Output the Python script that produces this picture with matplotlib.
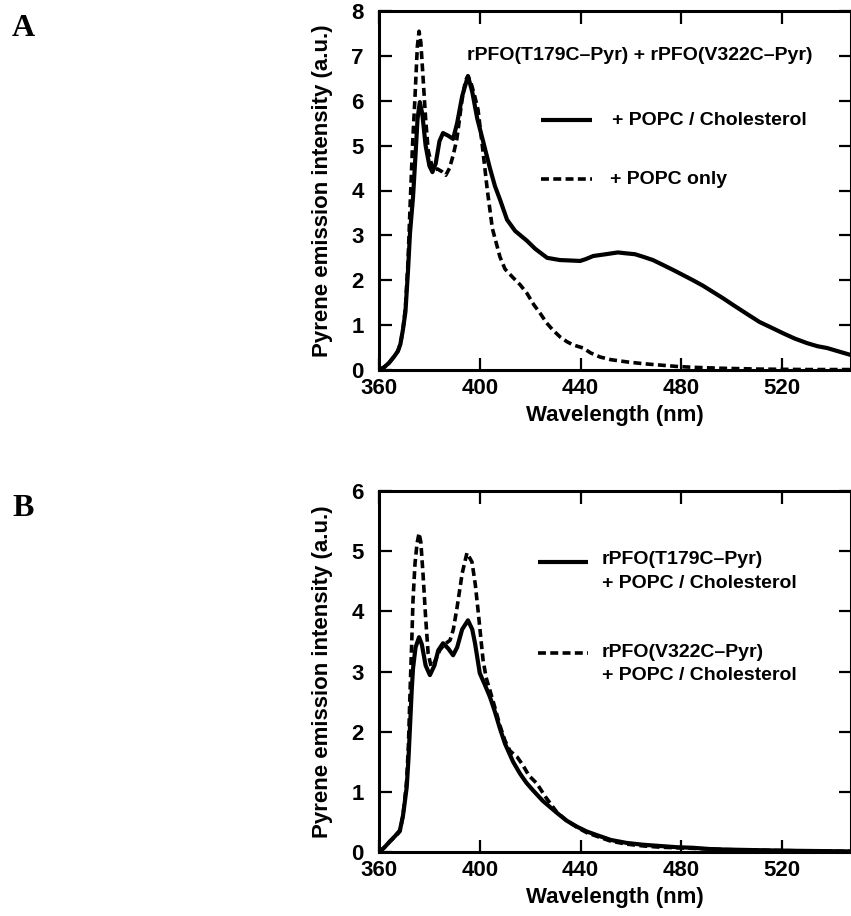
import matplotlib
matplotlib.use("Agg")
import matplotlib.pyplot as plt

plt.rcParams['font.family'] = ['Liberation Sans', 'DejaVu Sans']
plt.rcParams['font.weight'] = 'bold'

# panel A: rPFO(T179C-Pyr) + rPFO(V322C-Pyr)
wl_a_chol = [360, 362, 364, 366, 367.5, 368.5, 369.5, 370.5, 371.5, 372.3, 373.5, 374.5,
             375.3, 376.2, 377.2, 378.5, 380, 381.2, 382.5, 384, 385.4, 387.5, 389.4, 391,
             393, 395.3, 397, 399, 401.3, 404, 406, 408, 410.8, 414, 418.7, 422, 426.7,
             431.8, 436, 439.8, 442, 445, 450, 454.8, 458, 461.6, 465, 468.7, 472, 476.7,
             480.5, 484.6, 488.5, 492.5, 496.5, 500.5, 506, 511, 515.5, 520.3, 525, 529.8,
             534, 537.8, 542, 547.5]
int_a_chol = [0.0, 0.06, 0.16, 0.3, 0.42, 0.58, 0.9, 1.3, 2.2, 3.05, 3.85, 4.8,
              5.6, 5.97, 5.7, 5.0, 4.55, 4.41, 4.6, 5.1, 5.28, 5.22, 5.15, 5.5,
              6.1, 6.55, 6.2, 5.6, 5.1, 4.5, 4.1, 3.8, 3.35, 3.1, 2.88, 2.7, 2.5,
              2.45, 2.44, 2.43, 2.47, 2.54, 2.58, 2.62, 2.6, 2.58, 2.52, 2.45, 2.36, 2.23,
              2.12, 2.0, 1.88, 1.74, 1.6, 1.45, 1.25, 1.07, 0.95, 0.82, 0.7, 0.6,
              0.53, 0.49, 0.42, 0.33]

wl_a_popc = [360, 362, 364, 366, 367.5, 368.5, 369.5, 370.5, 371.5, 372.3, 373.3, 374.3,
             375.2, 375.9, 376.6, 377.5, 378.5, 379.5, 381.4, 383.2, 385, 386.5, 388, 389.5,
             390.9, 392.9, 394.3, 395.3, 396.5, 398, 399.3, 401, 403, 405, 408, 410, 413,
             416, 418.7, 421.5, 424, 426.5, 429, 432, 434.6, 437, 441, 444, 447.7, 452,
             458.4, 465, 471.5, 478, 484.6, 495, 511, 530, 547.5]
int_a_popc = [0.0, 0.06, 0.16, 0.3, 0.42, 0.58, 0.9, 1.4, 2.4, 3.6, 5.0, 6.1,
              7.2, 7.55, 7.3, 6.5, 5.6, 4.9, 4.45, 4.48, 4.42, 4.34, 4.5, 4.8,
              5.15, 6.0, 6.45, 6.55, 6.4, 6.1, 5.8, 5.0, 4.0, 3.15, 2.52, 2.25, 2.07,
              1.9, 1.71, 1.45, 1.26, 1.05, 0.89, 0.73, 0.63, 0.56, 0.49, 0.38, 0.29, 0.23,
              0.18, 0.14, 0.11, 0.08, 0.06, 0.04, 0.02, 0.01, 0.01]

# panel B: single labels + POPC / Cholesterol
wl_b_t179 = [360, 362, 364.4, 366.5, 368.3, 369.5, 370.3, 371, 371.7, 372.3, 373, 373.5,
             374.5, 375.9, 377, 378.5, 380.2, 382, 383.5, 385.4, 387.5, 389.4, 391, 393,
             395.3, 397, 398.1, 400, 402, 404, 406, 408, 410, 413.2, 416, 418.5, 421, 425,
             430.6, 434.5, 438.6, 442.5, 446.5, 452, 458.4, 465, 471.5, 478, 484.6, 491,
             498, 511, 525, 547.5]
int_b_t179 = [0.0, 0.07, 0.18, 0.27, 0.36, 0.6, 0.85, 1.08, 1.55, 2.08, 2.7, 3.05,
              3.4, 3.57, 3.45, 3.1, 2.94, 3.1, 3.35, 3.47, 3.38, 3.27, 3.4, 3.7,
              3.85, 3.7, 3.47, 2.97, 2.78, 2.58, 2.33, 2.05, 1.8, 1.5, 1.3, 1.15, 1.03, 0.85,
              0.65, 0.52, 0.42, 0.34, 0.28, 0.2, 0.15, 0.12, 0.1, 0.08, 0.07, 0.05,
              0.04, 0.03, 0.02, 0.01]

wl_b_v322 = [360, 362, 364.4, 366.5, 368.3, 369.5, 370.3, 371, 371.7, 372.3, 373, 373.5,
             374.3, 375.1, 375.9, 376.6, 377.5, 378.5, 379.5, 380.7, 382, 384.2, 386, 388.2,
             389.5, 391, 393, 394.9, 396.9, 398.2, 399.3, 400.3, 401.3, 402.5, 404, 406, 408,
             410, 412, 414.8, 417, 419.5, 422.6, 426, 430.6, 434.5, 438.6, 442.5, 446.5,
             452, 458.4, 465, 471.5, 478, 484.6, 491, 498, 511, 525, 547.5]
int_b_v322 = [0.0, 0.07, 0.18, 0.26, 0.34, 0.6, 0.9, 1.2, 1.8, 2.64, 3.5, 4.19,
              4.8, 5.13, 5.3, 5.15, 4.6, 3.9, 3.3, 3.08, 3.15, 3.36, 3.45, 3.52,
              3.7, 4.07, 4.63, 4.97, 4.82, 4.45, 4.02, 3.6, 3.19, 2.9, 2.69, 2.4, 2.1,
              1.85, 1.68, 1.58, 1.45, 1.27, 1.14, 0.92, 0.66, 0.52, 0.41, 0.32, 0.26,
              0.18, 0.13, 0.1, 0.08, 0.07, 0.06, 0.05, 0.04, 0.03, 0.02, 0.01]

xticks = [360, 400, 440, 480, 520]
FS = 16
SOLID = dict(color='black', lw=3.0, solid_capstyle='butt')
DASH = dict(color='black', lw=2.6, ls=(0, (2.2, 1.2)), dash_capstyle='butt')

fig = plt.figure(figsize=(8.51, 9.16), dpi=100)
fig.patch.set_facecolor('white')

ax1 = fig.add_axes([379 / 851, 1 - 370 / 916, 472 / 851, 359 / 916])
ax2 = fig.add_axes([379 / 851, 1 - 852 / 916, 472 / 851, 361 / 916])


def style(ax, ymax):
    ax.set_xlim(360, 547.3)
    ax.set_ylim(0, ymax)
    ax.set_xticks(xticks)
    ax.set_yticks(range(0, ymax + 1))
    ax.tick_params(direction='in', length=9, width=1.6, top=True, right=True,
                   labelsize=FS)
    ax.tick_params(axis='x', pad=6)
    ax.tick_params(axis='y', pad=11)
    for s in ax.spines.values():
        s.set_linewidth(2.2)
    for lab in ax.get_xticklabels() + ax.get_yticklabels():
        lab.set_fontweight('bold')
    ax.set_xlabel('Wavelength (nm)', fontsize=FS, fontweight='bold', labelpad=4)
    ax.set_ylabel('Pyrene emission intensity (a.u.)', fontsize=FS, fontweight='bold')
    ax.yaxis.set_label_coords(-0.098, 0.5)


# panel A
ax1.plot(wl_a_popc, int_a_popc, **DASH)
ax1.plot(wl_a_chol, int_a_chol, **SOLID)
style(ax1, 8)
ax1.text(0.553, 0.875, 'rPFO(T179C\u2013Pyr) + rPFO(V322C\u2013Pyr)', transform=ax1.transAxes,
         ha='center', va='center', fontsize=14, fontweight='bold')
ax1.plot([0.343, 0.451], [0.696, 0.696], transform=ax1.transAxes, **SOLID)
ax1.text(0.494, 0.696, '+ POPC / Cholesterol', transform=ax1.transAxes,
         ha='left', va='center', fontsize=14, fontweight='bold')
ax1.plot([0.343, 0.451], [0.532, 0.532], transform=ax1.transAxes, **DASH)
ax1.text(0.490, 0.532, '+ POPC only', transform=ax1.transAxes,
         ha='left', va='center', fontsize=14, fontweight='bold')

# panel B
ax2.plot(wl_b_v322, int_b_v322, **DASH)
ax2.plot(wl_b_t179, int_b_t179, **SOLID)
style(ax2, 6)
ax2.plot([0.337, 0.443], [0.803, 0.803], transform=ax2.transAxes, **SOLID)
ax2.text(0.472, 0.809, 'rPFO(T179C\u2013Pyr)', transform=ax2.transAxes,
         ha='left', va='center', fontsize=14, fontweight='bold')
ax2.text(0.472, 0.745, '+ POPC / Cholesterol', transform=ax2.transAxes,
         ha='left', va='center', fontsize=14, fontweight='bold')
ax2.plot([0.337, 0.443], [0.551, 0.551], transform=ax2.transAxes, **DASH)
ax2.text(0.472, 0.554, 'rPFO(V322C\u2013Pyr)', transform=ax2.transAxes,
         ha='left', va='center', fontsize=14, fontweight='bold')
ax2.text(0.472, 0.490, '+ POPC / Cholesterol', transform=ax2.transAxes,
         ha='left', va='center', fontsize=14, fontweight='bold')

# panel letters
fig.text(12 / 851, 1 - 29 / 916, 'A', fontsize=23, fontweight='bold',
         family=['Liberation Serif', 'DejaVu Serif'], ha='left', va='center')
fig.text(12 / 851, 1 - 509 / 916, 'B', fontsize=23, fontweight='bold',
         family=['Liberation Serif', 'DejaVu Serif'], ha='left', va='center')

fig.savefig('out.png', dpi=100, facecolor='white')
